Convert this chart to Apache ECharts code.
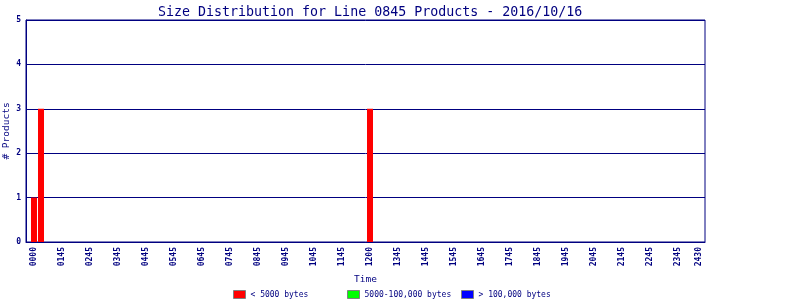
<!DOCTYPE html>
<html>
<head>
<meta charset="utf-8">
<script src="https://cdn.jsdelivr.net/npm/echarts@6/dist/echarts.min.js"></script>
<style>
  html, body { margin: 0; padding: 0; background: #fff; }
  #chart { width: 800px; height: 300px; }
</style>
</head>
<body>
<div id="chart"></div>
<script>
// 15 minute slots, 0 = 0000
let smallSlots = [0, 1, 48];
let smallCounts = [1, 3, 3];
let midSlots = [];
let midCounts = [];
let largeSlots = [];
let largeCounts = [];

let tickSlots = [0, 4, 8, 12, 16, 20, 24, 28, 32, 36, 40, 44, 48, 52, 56, 60, 64, 68, 72, 76, 80, 84, 88, 92, 95];
let tickLabels = ["0000", "0145", "0245", "0345", "0445", "0545", "0645", "0745", "0845", "0945", "1045", "1145",
  "1200", "1345", "1445", "1545", "1645", "1745", "1845", "1945", "2045", "2145", "2245", "2345", "2430"];

let seriesNames = ["< 5000 bytes", "5000-100,000 bytes", "> 100,000 bytes"];
let seriesColors = ["#ff0000", "#00ff00", "#0000ff"];

let navy = "#000080";
let mono = "DejaVu Sans Mono";

let pairs = (xs, ys) => xs.map((x, i) => [x, ys[i]]);

let chart = echarts.init(document.getElementById("chart"));

let bar = (name, color, xs, ys) => ({
  name: name,
  type: "bar",
  stack: "size",
  data: pairs(xs, ys),
  barWidth: 6,
  itemStyle: { color: color },
  emphasis: { disabled: true }
});

// one legend per item so each one sits in its own fixed slot
let legendLefts = [233, 347, 461];
let legends = seriesNames.map((n, i) => ({
  left: legendLefts[i],
  top: 290,
  itemWidth: 12,
  itemHeight: 8,
  itemGap: 5,
  padding: 0,
  icon: "rect",
  data: [n],
  itemStyle: { borderColor: "#808080", borderWidth: 1 },
  textStyle: { fontFamily: mono, fontSize: 8, color: navy, padding: [1, 0, 0, 0] }
}));

chart.setOption({
  animation: false,
  title: {
    text: "Size Distribution for Line 0845 Products - 2016/10/16",
    left: 153,
    top: 1,
    textStyle: { fontFamily: mono, fontSize: 13.3, fontWeight: "normal", color: navy }
  },
  legend: legends,
  grid: {
    left: 26, right: 95, top: 20, bottom: 58,
    outerBoundsMode: "none",
    containLabel: false,
    show: true, borderColor: navy, borderWidth: 1
  },
  xAxis: {
    type: "value",
    min: -1.143,
    max: 95.857,
    name: "Time",
    nameLocation: "middle",
    nameGap: 31,
    nameTextStyle: { fontFamily: mono, fontSize: 9.5, color: navy },
    axisLine: { show: true, onZero: false, lineStyle: { color: navy, width: 1 } },
    axisTick: { show: false },
    splitLine: { show: false },
    axisLabel: {
      customValues: tickSlots,
      rotate: 90,
      margin: 5,
      fontFamily: mono,
      fontSize: 8,
      fontWeight: "bold",
      color: navy,
      formatter: (v) => {
        let i = tickSlots.indexOf(Math.round(v));
        return i >= 0 ? tickLabels[i] : "";
      }
    }
  },
  yAxis: {
    type: "value",
    min: 0,
    max: 5,
    interval: 1,
    name: "# Products",
    nameLocation: "middle",
    nameGap: 14,
    nameMoveOverlap: false,
    nameTextStyle: { fontFamily: mono, fontSize: 9.5, color: navy },
    axisLine: { show: true, onZero: false, lineStyle: { color: navy, width: 1 } },
    axisTick: { show: false },
    splitLine: { show: true, lineStyle: { color: navy, width: 1 } },
    axisLabel: { fontFamily: mono, fontSize: 8, fontWeight: "bold", color: navy, margin: 5 }
  },
  series: seriesNames.map((n, i) =>
    bar(n, seriesColors[i], [smallSlots, midSlots, largeSlots][i], [smallCounts, midCounts, largeCounts][i]))
});
</script>
</body>
</html>
